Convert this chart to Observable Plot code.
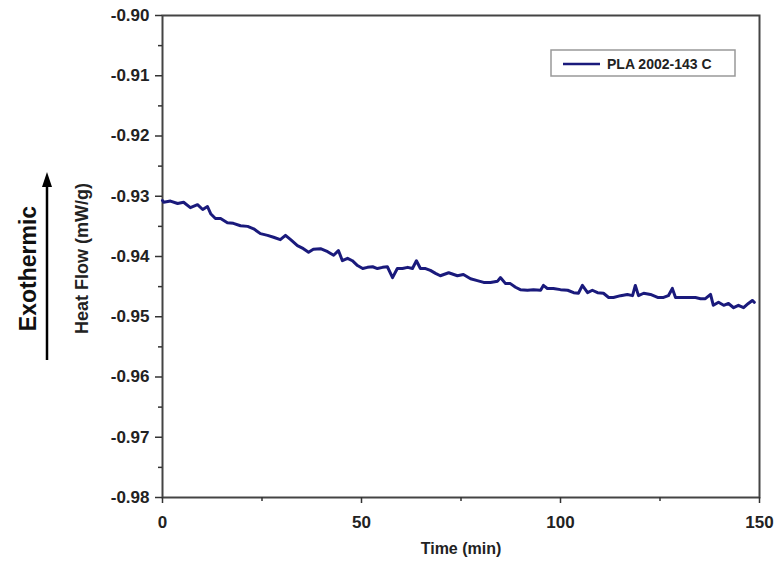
<!DOCTYPE html>
<html>
<head>
<meta charset="utf-8">
<script src="https://cdn.jsdelivr.net/npm/d3@7"></script>
<script src="https://cdn.jsdelivr.net/npm/@observablehq/plot@0.6"></script>
<style>
  html, body { margin: 0; padding: 0; background: #fff; }
</style>
</head>
<body>
<div id="chart"></div>
<script>
// Time (min)
const time = [
  0, 0.3, 2.0, 3.8, 5.3, 7.0, 8.8, 10.1, 11.3, 12.1, 13.3, 14.6, 16.3, 17.8, 19.6, 21.4, 22.9,
  24.6, 26.4, 27.9, 29.6, 30.9, 32.2, 33.9, 35.4, 36.7, 37.9, 39.7, 41.5, 43.0, 44.2, 45.2,
  46.5, 47.7, 49.0, 50.3, 51.5, 52.8, 54.0, 55.3, 56.5, 57.8, 59.0, 60.3, 61.6, 62.8, 63.8,
  64.8, 66.1, 67.3, 68.6, 69.8, 71.9, 74.1, 75.6, 77.4, 79.1, 80.7, 82.4, 84.2, 84.9, 86.2,
  87.4, 88.7, 89.9, 91.7, 93.2, 95.0, 95.7, 96.7, 98.2, 100.0, 101.8, 103.3, 104.5, 105.5,
  106.8, 108.0, 109.3, 110.8, 112.1, 113.3, 115.1, 116.8, 118.1, 118.8, 119.6, 120.9, 122.6,
  124.4, 125.9, 127.1, 128.1, 128.9, 130.7, 132.2, 133.9, 135.2, 136.4, 137.7, 138.4, 139.7,
  141.0, 142.2, 143.5, 144.7, 146.0, 147.2, 148.2, 148.7
];
// Heat Flow (mW/g)
const heatFlow = [
  -0.9307, -0.9310, -0.9308, -0.9312, -0.9310, -0.9319, -0.9314, -0.9322, -0.9317, -0.9329,
  -0.9337, -0.9337, -0.9344, -0.9345, -0.9349, -0.9350, -0.9354, -0.9362, -0.9365, -0.9368,
  -0.9372, -0.9365, -0.9372, -0.9382, -0.9387, -0.9393, -0.9388, -0.9387, -0.9392, -0.9398,
  -0.9390, -0.9407, -0.9403, -0.9407, -0.9415, -0.9420, -0.9418, -0.9417, -0.9420, -0.9418,
  -0.9417, -0.9435, -0.9420, -0.9420, -0.9418, -0.9420, -0.9407, -0.9420, -0.9420, -0.9423,
  -0.9428, -0.9432, -0.9427, -0.9432, -0.9430, -0.9437, -0.9440, -0.9443, -0.9443, -0.9441,
  -0.9435, -0.9445, -0.9445, -0.9451, -0.9455, -0.9456, -0.9455, -0.9456, -0.9448, -0.9453,
  -0.9453, -0.9455, -0.9456, -0.9460, -0.9461, -0.9448, -0.9460, -0.9456, -0.9460, -0.9461,
  -0.9468, -0.9468, -0.9465, -0.9463, -0.9465, -0.9448, -0.9465, -0.9461, -0.9463, -0.9468,
  -0.9468, -0.9465, -0.9453, -0.9468, -0.9468, -0.9468, -0.9468, -0.9470, -0.9470, -0.9463,
  -0.9481, -0.9476, -0.9481, -0.9478, -0.9485, -0.9481, -0.9485, -0.9478, -0.9473, -0.9476
];
const yTicks = [-0.98, -0.97, -0.96, -0.95, -0.94, -0.93, -0.92, -0.91, -0.90];
const yMinor = [-0.975, -0.965, -0.955, -0.945, -0.935, -0.925, -0.915, -0.905];
const xTicks = [0, 50, 100, 150];
const xMinor = [25, 75, 125];
const seriesName = "PLA 2002-143 C";
const xTitle = "Time (min)";
const yTitle = "Heat Flow (mW/g)";
const sideNote = "Exothermic";

const data = time.map((t, i) => ({t, v: heatFlow[i]}));
const lineColor = "#1a1a7c";

function arrowMark(index, scales, values, dims) {
  const g = d3.create("svg:g");
  const x = dims.marginLeft - 115;
  const yBottom = dims.marginTop + 345;
  const yTop = dims.marginTop + 157;
  g.append("line").attr("x1", x).attr("x2", x).attr("y1", yBottom).attr("y2", yTop + 12)
    .attr("stroke", "#000").attr("stroke-width", 2.5);
  g.append("path").attr("d", `M${x},${yTop} L${x - 5},${yTop + 15} L${x + 5},${yTop + 15} Z`)
    .attr("fill", "#000");
  return g.node();
}

function legendMark(index, scales, values, dims) {
  const g = d3.create("svg:g");
  const right = dims.width - dims.marginRight;
  const x0 = right - 208, y0 = dims.marginTop + 35;
  g.append("rect").attr("x", x0).attr("y", y0).attr("width", 184).attr("height", 26)
    .attr("fill", "#fff").attr("stroke", "#999").attr("stroke-width", 1.5);
  g.append("line").attr("x1", x0 + 12).attr("x2", x0 + 49).attr("y1", y0 + 14).attr("y2", y0 + 14)
    .attr("stroke", lineColor).attr("stroke-width", 2.5);
  g.append("text").attr("x", x0 + 56).attr("y", y0 + 14).attr("dy", "0.35em")
    .attr("text-anchor", "start")
    .attr("font-size", 14).attr("font-weight", "bold").attr("fill", "#222").text(seriesName);
  return g.node();
}

const chart = Plot.plot({
  width: 778,
  height: 571,
  marginLeft: 162,
  marginRight: 19,
  marginTop: 15,
  marginBottom: 74,
  x: {domain: [0, 150]},
  y: {domain: [-0.98, -0.90]},
  style: {fontFamily: "'Liberation Sans', Arial, sans-serif", fontWeight: "bold", fontSize: "17px", color: "#222", background: "#fff"},
  marks: [
    Plot.frame({stroke: "#444", strokeWidth: 2}),
    Plot.axisY({ticks: yTicks, tickFormat: d => d.toFixed(2), tickSize: 7, tickPadding: 6, label: null, fontSize: 17, fontWeight: "bold", stroke: "#333", strokeWidth: 1.5}),
    Plot.axisY({ticks: yMinor, tickSize: 4, tickFormat: () => "", label: null, stroke: "#333", strokeWidth: 1.5}),
    Plot.axisX({ticks: xTicks, tickSize: 6, tickPadding: 12, label: null, fontSize: 17, fontWeight: "bold", stroke: "#333", strokeWidth: 1.5}),
    Plot.axisX({ticks: xMinor, tickSize: 4, tickFormat: () => "", label: null, stroke: "#333", strokeWidth: 1.5}),
    Plot.line(data, {x: "t", y: "v", stroke: lineColor, strokeWidth: 3}),
    Plot.text([xTitle], {frameAnchor: "bottom", dy: 56, text: d => d, fontSize: 16, fontWeight: "bold", fill: "#222"}),
    Plot.text([yTitle], {frameAnchor: "left", textAnchor: "middle", dx: -80, dy: 2, rotate: -90, text: d => d, fontSize: 18, fontWeight: "bold", fill: "#222"}),
    Plot.text([sideNote], {frameAnchor: "left", textAnchor: "middle", dx: -134, dy: 12, rotate: -90, text: d => d, fontSize: 23, fontWeight: "bold", fill: "#111"}),
    arrowMark,
    legendMark
  ]
});
document.getElementById("chart").appendChild(chart);
</script>
</body>
</html>
